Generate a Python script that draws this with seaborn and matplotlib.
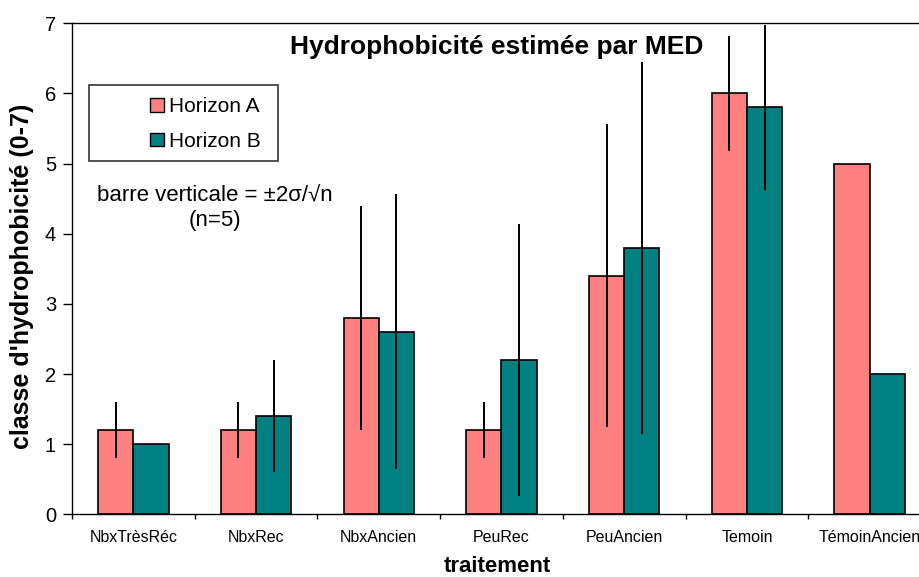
import matplotlib
matplotlib.use("Agg")
import matplotlib.pyplot as plt
from matplotlib.patches import Rectangle, Patch
from matplotlib.ticker import FixedLocator
import numpy as np
import pandas as pd
import seaborn as sns

# Treatments and mean hydrophobicity class per soil horizon
categories = ["NbxTrèsRéc", "NbxRec", "NbxAncien", "PeuRec", "PeuAncien", "Temoin", "TémoinAncien"]
horizon_a = [1.2, 1.2, 2.8, 1.2, 3.4, 6.0, 5.0]
horizon_b = [1.0, 1.4, 2.6, 2.2, 3.8, 5.8, 2.0]
# Half-length of the vertical bars (±2σ/√n); 0 = no bar drawn
err_a = [0.4, 0.4, 1.6, 0.4, 2.16, 0.82, 0.0]
err_b = [0.0, 0.8, 1.96, 1.94, 2.65, 1.17, 0.0]
series_names = ["Horizon A", "Horizon B"]
y_ticks = [0, 1, 2, 3, 4, 5, 6, 7]

colors = ["#FF8080", "#008080"]

df = pd.DataFrame({
    "traitement": categories * 2,
    "horizon": [series_names[0]] * len(categories) + [series_names[1]] * len(categories),
    "valeur": horizon_a + horizon_b,
})

sns.set_style("white")
plt.rcParams["font.family"] = ["Liberation Sans", "DejaVu Sans"]
plt.rcParams["text.color"] = "black"
plt.rcParams["axes.labelcolor"] = "black"
plt.rcParams["xtick.color"] = "black"
plt.rcParams["ytick.color"] = "black"

fig = plt.figure(figsize=(9.19, 5.77), dpi=100)
W, H = 919, 577
ax = fig.add_axes([72 / W, (H - 514.3) / H, 859 / W, 491 / H])

sns.barplot(data=df, x="traitement", y="valeur", hue="horizon", order=categories,
            hue_order=series_names, palette=colors, width=0.574, errorbar=None,
            edgecolor="black", linewidth=1.2, saturation=1, legend=False, ax=ax)

# Vertical bars (no caps) drawn at the centre of each bar
for cont, errs in zip(ax.containers, [err_a, err_b]):
    xs, ys, es = [], [], []
    for bar, e in zip(cont, errs):
        if e > 0:
            xs.append(bar.get_x() + bar.get_width() / 2)
            ys.append(bar.get_height())
            es.append(e)
    ax.errorbar(xs, ys, yerr=es, fmt="none", ecolor="black", elinewidth=1.4,
                capsize=0, zorder=5)

ax.set_xlim(-0.5, len(categories) - 0.5)
ax.set_ylim(0, 7)
ax.set_yticks(y_ticks)
ax.tick_params(axis="y", direction="out", length=6.5, width=1, pad=5,
               labelsize=14.5, left=True, color="black", labelcolor="black")
ax.tick_params(axis="x", which="major", length=0, pad=11, labelsize=11.5,
               labelcolor="black")
ax.xaxis.set_minor_locator(FixedLocator(np.arange(-0.5, len(categories), 1.0)))
ax.tick_params(axis="x", which="minor", direction="out", length=3.5, width=1,
               bottom=True, color="black")

for side in ["left", "bottom", "top", "right"]:
    ax.spines[side].set_color("black")
    ax.spines[side].set_linewidth(1.0)

ax.set_xlabel("traitement", fontsize=16, fontweight="bold")
ax.xaxis.set_label_coords((497 - 72) / 859, (514.3 - 566) / 491)
ax.xaxis.label.set_va("center")
ax.set_ylabel("classe d'hydrophobicité (0-7)", fontsize=18, fontweight="bold")
ax.yaxis.set_label_coords((22 - 72) / 859, (514.3 - 276) / 491)
ax.yaxis.label.set_va("center")

fig.text(497 / W, 1 - 47 / H, "Hydrophobicité estimée par MED", ha="center",
         va="center", fontsize=19, fontweight="bold")

# Legend box and entries
fig.add_artist(Rectangle((89 / W, 1 - 161 / H), (278 - 89) / W, (161 - 85) / H,
                         transform=fig.transFigure, fill=False, edgecolor="#333333",
                         linewidth=1.2))
handles = [Patch(facecolor=c, edgecolor="black", linewidth=1.0) for c in colors]
ax.legend(handles, series_names, loc="center left",
          bbox_to_anchor=(150 / W, 1 - 124 / H), bbox_transform=fig.transFigure,
          frameon=False, fontsize=15, handlelength=0.65, handleheight=0.65,
          handletextpad=0.25, labelspacing=0.75, borderpad=0, borderaxespad=0)

fig.text(215 / W, 1 - 208 / H, "barre verticale = ±2σ/√n\n(n=5)", ha="center",
         va="center", fontsize=16, multialignment="center", linespacing=1.2)

fig.savefig("out.png", dpi=100)
